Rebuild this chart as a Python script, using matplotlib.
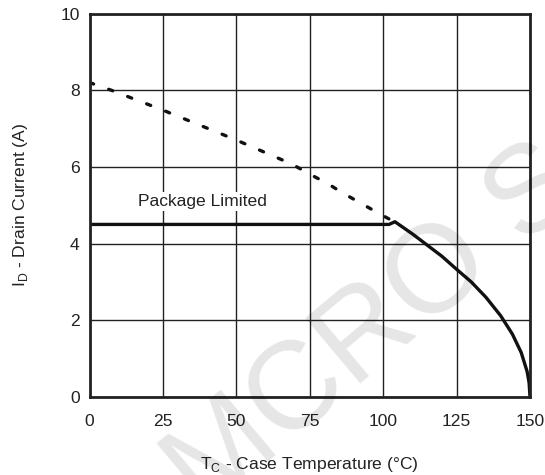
import matplotlib
matplotlib.use("Agg")
import matplotlib.pyplot as plt

plt.rcParams['font.family'] = ['Liberation Sans', 'DejaVu Sans']
plt.rcParams['mathtext.fontset'] = 'custom'
plt.rcParams['mathtext.rm'] = 'Liberation Sans'

# ---------------- derating data ----------------
# silicon limit (dashed)
tc_si = [0, 7.4, 25, 50, 69, 75, 81, 86, 92, 98, 103.5]
id_si = [8.2, 8.0, 7.48, 6.7, 6.07, 5.81, 5.57, 5.33, 5.07, 4.81, 4.58]

# package limited flat part, then thermal roll-off to 150 C
tc_pkg = [0, 102, 104, 110, 115, 120, 125, 130, 135, 140, 144, 147, 149, 149.7, 150]
id_pkg = [4.5, 4.5, 4.57, 4.25, 3.96, 3.67, 3.33, 3.0, 2.6, 2.12, 1.64, 1.16, 0.67, 0.37, 0.0]

x_ticks = [0, 25, 50, 75, 100, 125, 150]
y_ticks = [0, 2, 4, 6, 8, 10]

FS = 12.6

fig = plt.figure(figsize=(5.45, 4.75), dpi=100)
ax = fig.add_axes([89.5 / 545, 1 - 397 / 475, 440.5 / 545, 383.5 / 475])

ax.set_xlim(0, 150)
ax.set_ylim(0, 10)
ax.set_xticks(x_ticks)
ax.set_yticks(y_ticks)
ax.grid(True, color='#222222', lw=1.0)
ax.set_axisbelow(True)
ax.tick_params(length=0, labelsize=FS, colors='#222222')
ax.tick_params(axis='x', pad=12)
ax.tick_params(axis='y', pad=7)
for s in ax.spines.values():
    s.set_linewidth(2.0)
    s.set_color('#222222')

ax.plot(tc_si, id_si, color='#111111', lw=2.4, dashes=(1.3, 4.8),
        dash_capstyle='round', solid_capstyle='round')
ax.plot(tc_pkg, id_pkg, color='#111111', lw=2.4, solid_joinstyle='round')

ax.text(16.5, 5.1, 'Package Limited', fontsize=FS, color='#222222',
        va='center', ha='left',
        bbox=dict(facecolor='white', edgecolor='none', pad=1.5))

ax.set_xlabel(r'T$_\mathrm{C}$ - Case Temperature (°C)', fontsize=FS,
              color='#222222', labelpad=19)
ax.set_ylabel(r'I$_\mathrm{D}$ - Drain Current (A)', fontsize=FS,
              color='#222222', labelpad=22)

# faint watermark across the plot
fig.text(375 / 545, 1 - 330 / 475, 'MCRO S', fontsize=90, rotation=40,
         ha='center', va='center', color='black', alpha=0.1)

fig.savefig('out.png', dpi=100)
